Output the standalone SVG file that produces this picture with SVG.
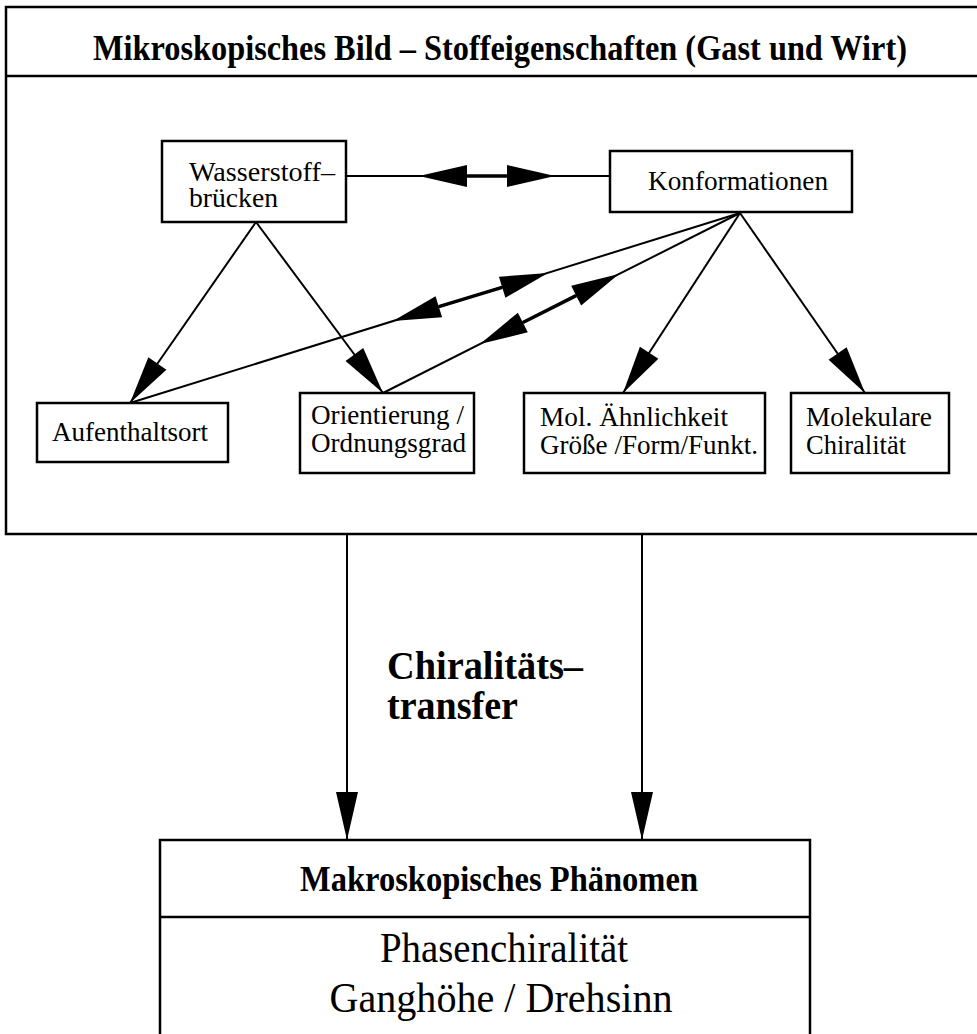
<svg xmlns="http://www.w3.org/2000/svg" width="977" height="1034" viewBox="0 0 977 1034">
<style>
.box{fill:#fff;stroke:#000;stroke-width:2.5}
.ln{fill:none;stroke:#000;stroke-width:2}
.thk{fill:none;stroke:#000;stroke-width:3.5}
.t{font-family:"Liberation Serif","Times New Roman",serif;font-size:28px;fill:#000}
.hb{font-family:"Liberation Serif","Times New Roman",serif;font-size:35px;font-weight:bold;fill:#000}
</style>
<defs>
<polygon id="ah" points="0,0 -48,-11 -48,11" fill="#000"/>
</defs>
<rect width="977" height="1034" fill="#fff"/>
<g id="micro">
<rect class="box" x="6" y="7" width="990" height="527"/>
<line class="ln" x1="6" y1="76" x2="996" y2="76" style="stroke-width:2.5"/>
<text class="hb" x="93" y="60" textLength="814" lengthAdjust="spacingAndGlyphs">Mikroskopisches Bild – Stoffeigenschaften (Gast und Wirt)</text>
</g>
<g id="connectors">
<line class="ln" x1="346" y1="176" x2="610" y2="176"/>
<line class="thk" x1="466" y1="176" x2="508" y2="176"/>
<use href="#ah" transform="translate(419,176) rotate(180)"/>
<use href="#ah" transform="translate(555,176)"/>
<line class="ln" x1="740" y1="213" x2="130" y2="403"/>
<line class="thk" x1="438.8" y1="306.7" x2="502.2" y2="287.3"/>
<use href="#ah" transform="translate(393,321) rotate(162.7)"/>
<use href="#ah" transform="translate(548,273) rotate(-17.3)"/>
<line class="ln" x1="740" y1="213" x2="383" y2="393"/>
<line class="thk" x1="522.9" y1="322.5" x2="576.1" y2="295.6"/>
<use href="#ah" transform="translate(480,344.1) rotate(153.2)"/>
<use href="#ah" transform="translate(619,274) rotate(-26.8)"/>
<line class="ln" x1="740" y1="213" x2="623" y2="393"/>
<use href="#ah" transform="translate(623,393) rotate(123)"/>
<line class="ln" x1="740" y1="213" x2="865" y2="393"/>
<use href="#ah" transform="translate(865,393) rotate(55.2)"/>
<line class="ln" x1="256" y1="222" x2="130" y2="403"/>
<use href="#ah" transform="translate(130,403) rotate(124.8)"/>
<line class="ln" x1="256" y1="222" x2="383" y2="393"/>
<use href="#ah" transform="translate(383,393) rotate(53.4)"/>
<line class="ln" x1="347" y1="534" x2="347" y2="840"/>
<use href="#ah" transform="translate(347,840) rotate(90)"/>
<line class="ln" x1="642" y1="534" x2="642" y2="840"/>
<use href="#ah" transform="translate(642,840) rotate(90)"/>
</g>
<g id="wasserstoff">
<rect class="box" x="162" y="141" width="184" height="81"/>
<text class="t" x="189" y="181" textLength="146" lengthAdjust="spacingAndGlyphs">Wasserstoff–</text>
<text class="t" x="189" y="207" textLength="89" lengthAdjust="spacingAndGlyphs">brücken</text>
</g>
<g id="konformationen">
<rect class="box" x="610" y="151" width="242" height="61"/>
<text class="t" x="648" y="190" textLength="180" lengthAdjust="spacingAndGlyphs">Konformationen</text>
</g>
<g id="aufenthaltsort">
<rect class="box" x="37" y="403" width="191" height="59"/>
<text class="t" x="52" y="441" textLength="156" lengthAdjust="spacingAndGlyphs">Aufenthaltsort</text>
</g>
<g id="orientierung">
<rect class="box" x="300" y="393" width="174" height="80"/>
<text class="t" x="311" y="424" textLength="153" lengthAdjust="spacingAndGlyphs">Orientierung /</text>
<text class="t" x="311" y="452" textLength="155" lengthAdjust="spacingAndGlyphs">Ordnungsgrad</text>
</g>
<g id="aehnlichkeit">
<rect class="box" x="524" y="393" width="241" height="80"/>
<text class="t" x="540" y="426" textLength="188" lengthAdjust="spacingAndGlyphs">Mol. Ähnlichkeit</text>
<text class="t" x="540" y="454" textLength="218" lengthAdjust="spacingAndGlyphs">Größe /Form/Funkt.</text>
</g>
<g id="chiralitaet">
<rect class="box" x="791" y="393" width="158" height="80"/>
<text class="t" x="806" y="426" textLength="126" lengthAdjust="spacingAndGlyphs">Molekulare</text>
<text class="t" x="806" y="454" textLength="100" lengthAdjust="spacingAndGlyphs">Chiralität</text>
</g>
<g id="transfer-label">
<text class="hb" x="387" y="679" style="font-size:41px" textLength="196" lengthAdjust="spacingAndGlyphs">Chiralitäts–</text>
<text class="hb" x="387" y="719" style="font-size:41px" textLength="131" lengthAdjust="spacingAndGlyphs">transfer</text>
</g>
<g id="makro">
<rect class="box" x="160" y="840" width="650" height="220"/>
<line class="ln" x1="160" y1="917" x2="810" y2="917" style="stroke-width:2.5"/>
<text class="hb" x="300" y="891" textLength="398" lengthAdjust="spacingAndGlyphs">Makroskopisches Phänomen</text>
<text class="t" x="504" y="962" text-anchor="middle" style="font-size:42px" textLength="248" lengthAdjust="spacingAndGlyphs">Phasenchiralität</text>
<text class="t" x="501" y="1012" text-anchor="middle" style="font-size:42px" textLength="343" lengthAdjust="spacingAndGlyphs">Ganghöhe / Drehsinn</text>
</g>
</svg>
